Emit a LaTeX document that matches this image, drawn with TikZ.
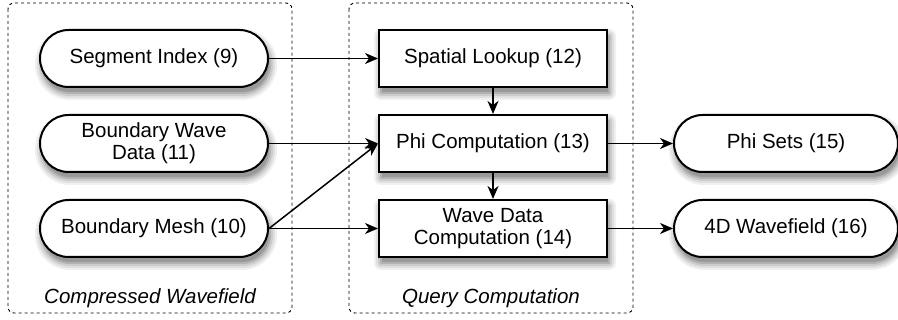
\documentclass[tikz,border=0pt]{standalone}
\usepackage{fontspec}
\setmainfont{Liberation Sans}
\usetikzlibrary{arrows.meta}

\tikzset{
  x=1pt, y=-1pt,
  datanode/.style={draw=black, line width=2pt, fill=white, rounded corners=28.5pt,
      minimum width=228pt, minimum height=57pt, inner sep=0pt, align=center,
      font=\fontsize{20.5}{22}\selectfont},
  procnode/.style={draw=black, line width=2pt, fill=white,
      minimum width=228pt, minimum height=57pt, inner sep=0pt, align=center,
      font=\fontsize{20.5}{22}\selectfont},
  groupbox/.style={draw=black, line width=0.9pt, dash pattern=on 3pt off 3pt,
      rounded corners=6pt},
  grouplabel/.style={font=\itshape\fontsize{20.5}{22}\selectfont},
  flow/.style={line width=1.5pt, -{Stealth[length=13pt, width=11pt, inset=4pt]}},
  shadowlayer/.style={fill=black!#1, draw=none},
}

% one grey layer of a drop shadow:
% #1 x left, #2 y top, #3 x right, #4 y bottom, #5 corner radius, #6 grey
\newcommand{\shadelayer}[6]{%
  \fill[shadowlayer=#6, rounded corners=#5pt] (#1,#2) rectangle (#3,#4);}
% stadium shadow: #1 x left, #2 x right, #3 y top of the box
\newcommand{\roundshade}[3]{%
  \shadelayer{#1-5}{#3-1}{#2+9}{#3+70}{35}{6}%
  \shadelayer{#1-3}{#3+1}{#2+7}{#3+68}{33}{12}%
  \shadelayer{#1-1}{#3+3}{#2+5}{#3+66}{31}{20}%
  \shadelayer{#1+1}{#3+5}{#2+3}{#3+64}{29}{30}%
  \shadelayer{#1+3}{#3+7}{#2+1}{#3+62}{27}{40}}
% rectangle shadow: #1 x left, #2 x right, #3 y top of the box
\newcommand{\squareshade}[3]{%
  \shadelayer{#1-5}{#3-1}{#2+9}{#3+70}{7}{6}%
  \shadelayer{#1-3}{#3+1}{#2+7}{#3+68}{5}{12}%
  \shadelayer{#1-1}{#3+3}{#2+5}{#3+66}{3}{20}%
  \shadelayer{#1+1}{#3+5}{#2+3}{#3+64}{1}{30}%
  \shadelayer{#1+3}{#3+7}{#2+1}{#3+62}{0.01}{40}}

\begin{document}
\begin{tikzpicture}
  \useasboundingbox (0,0) rectangle (898,320);

  % group frames
  \draw[groupbox] (8,3) rectangle (292,313);
  \draw[groupbox] (349,3) rectangle (633,313);

  % shadows under the boxes
  \roundshade{40}{268}{30}
  \roundshade{40}{268}{115}
  \roundshade{40}{268}{200}
  \squareshade{379}{607}{30}
  \squareshade{379}{607}{115}
  \squareshade{379}{607}{200}
  \roundshade{674}{898}{115}
  \roundshade{674}{898}{200}

  % inputs
  \node[datanode] (seg)   at (154,58.5)  {Segment Index (9)};
  \node[datanode] (bwd)   at (154,143.5) {Boundary Wave\\Data (11)};
  \node[datanode] (bmesh) at (154,228.5) {Boundary Mesh (10)};

  % processing steps
  \node[procnode] (spat) at (493,58.5)  {Spatial Lookup (12)};
  \node[procnode] (phic) at (493,143.5) {Phi Computation (13)};
  \node[procnode] (wdc)  at (493,228.5) {Wave Data\\Computation (14)};

  % outputs
  \node[datanode, minimum width=224pt] (phis) at (786,143.5) {Phi Sets (15)};
  \node[datanode, minimum width=224pt] (wf4d) at (786,228.5) {4D Wavefield (16)};

  \node[grouplabel] (lblc) at (150,298) {Compressed Wavefield};
  \node[grouplabel] (lblq) at (491,298) {Query Computation};

  % connectors
  \draw[flow] (seg.east) -- (spat.west);
  \draw[flow] (bwd.east) -- (phic.west);
  \draw[flow] (bmesh.east) -- (phic.west);
  \draw[flow] (bmesh.east) -- (wdc.west);
  \draw[flow] (spat.south) -- (phic.north);
  \draw[flow] (phic.south) -- (wdc.north);
  \draw[flow] (phic.east) -- (phis.west);
  \draw[flow] (wdc.east) -- (wf4d.west);
\end{tikzpicture}
\end{document}
